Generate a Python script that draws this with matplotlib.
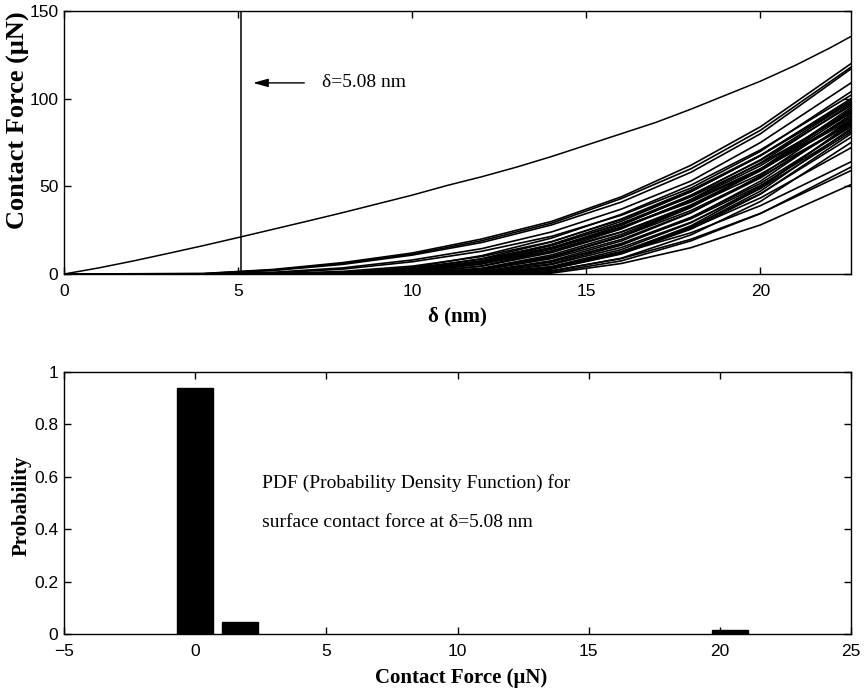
import matplotlib
matplotlib.use("Agg")
import matplotlib.pyplot as plt

# ---- top panel: contact force vs. delta ----
# single (upper) curve
main_x = [0, 1, 2, 3, 4, 5, 6, 7, 8, 9, 10, 11, 12, 13, 14, 15, 16, 17, 18, 19, 20, 21, 22, 22.6]
main_y = [0, 3.5, 7.5, 11.8, 16.2, 20.8, 25.5, 30.2, 35, 40, 45, 50.5, 55.5, 61, 67, 73.5,
          80, 86.5, 94, 102, 110, 119, 129, 135.5]

# bundle of curves, values read at these delta positions
bundle_x = [0, 4, 6, 8, 10, 12, 14, 16, 18, 20, 22.6]
bundle_y = [
    [0, 0.3, 2.6, 6.5, 12, 20, 30, 44, 62, 84, 120],
    [0, 0.2, 2.3, 6.0, 11.3, 19, 29, 43, 60, 82, 118],
    [0, 0.1, 2.0, 5.5, 10.8, 18, 28, 41, 58, 80, 117],
    [0, 0, 1.0, 3.5, 8, 14.5, 24, 37, 53, 75, 109],
    [0, 0, 0.6, 2.8, 7, 13, 21.5, 33.5, 49, 70, 104],
    [0, 0, 0.2, 1.5, 4.5, 10, 18.5, 31, 47, 67.5, 98],
    [0, 0, 0.1, 1.0, 3.5, 8.5, 16.5, 28.5, 44, 63, 92],
    [0, 0, 0, 0.6, 2.8, 7.5, 15, 26.5, 41, 59.5, 88],
    [0, 0, 0, 0.3, 2.0, 6.0, 13, 24, 38.5, 57, 86],
    [0, 0, 0, 0.4, 3.8, 10.5, 20.5, 34, 50.7, 70.8, 102],
    [0, 0, 0, 0, 1.9, 7.5, 16.9, 30, 46.9, 67.5, 100],
    [0, 0, 0, 0.1, 2.7, 8.8, 18.3, 31.4, 47.8, 67.8, 99],
    [0, 0, 0, 0, 1.1, 6, 14.9, 27.7, 44.5, 65.2, 98],
    [0, 0, 0, 0, 0.5, 4.7, 13.1, 25.7, 42.5, 63.4, 97],
    [0, 0, 0, 0, 1.8, 7.2, 16.2, 28.8, 45, 64.8, 96],
    [0, 0, 0, 0, 0, 2.4, 9.6, 21.6, 38.3, 59.9, 95],
    [0, 0, 0, 0, 0, 2.4, 9.5, 21.3, 37.9, 59.2, 94],
    [0, 0, 0, 0, 1.1, 5.7, 14.1, 26.3, 42.2, 61.8, 93],
    [0, 0, 0, 0, 0.1, 3.3, 10.9, 22.6, 38.7, 59.2, 92],
    [0, 0, 0, 0, 0, 1.4, 7.6, 18.8, 34.9, 56.1, 91],
    [0, 0, 0, 0, 0.5, 4.4, 12.2, 23.9, 39.4, 58.9, 90],
    [0, 0, 0, 0, 1.7, 6.7, 15, 26.7, 41.7, 60.1, 89],
    [0, 0, 0, 0, 0, 0.7, 5.9, 16.4, 32, 53, 88],
    [0, 0, 0, 0, 0, 2.2, 8.8, 19.7, 35.1, 54.8, 87],
    [0, 0, 0, 0, 0.1, 3.1, 10.1, 21.2, 36.2, 55.3, 86],
    [0, 0, 0, 0, 0, 0, 3.1, 12.2, 27.5, 49, 86],
    [0, 0, 0, 0, 0, 0.2, 4.3, 13.9, 29.2, 49.9, 85],
    [0, 0, 0, 0, 0, 1.3, 7.0, 17.4, 32.3, 51.7, 84],
    [0, 0, 0, 0, 0, 0, 3.0, 11.8, 26.6, 47.3, 83],
    [0, 0, 0, 0, 0, 1.3, 6.9, 17, 31.5, 50.5, 82],
    [0, 0, 0, 0, 0, 0.6, 5.4, 15.1, 29.5, 48.8, 81],
    [0, 0, 0, 0, 0, 0, 2.9, 11.4, 25.6, 45.6, 80],
    [0, 0, 0, 0, 0, 0.2, 4.0, 12.8, 26.8, 45.8, 78],
    [0, 0, 0, 0, 0, 0, 1.7, 9, 22.3, 41.4, 75],
    [0, 0, 0, 0, 0, 0, 3.6, 12.5, 25.8, 43.4, 72],
    [0, 0, 0, 0, 0, 0.3, 3.8, 12, 23.5, 39, 64],
    [0, 0, 0, 0, 0, 0, 1, 7.5, 18.9, 34.5, 61],
    [0, 0, 0, 0, 0, 0, 1.9, 8.8, 19.8, 34.6, 59],
    [0, 0, 0, 0, 0, 0, 0.5, 6, 15, 28, 51],
]
delta_mark = 5.08

# ---- bottom panel: PDF of contact force at delta = 5.08 nm ----
pdf_force = [0, 1.72, 20.4]
pdf_prob = [0.94, 0.047, 0.017]
bin_width = 1.37

sans = "Liberation Sans"
serif = "Liberation Serif"

fig = plt.figure(figsize=(8.66, 6.88), dpi=100)
ax1 = fig.add_axes([0.0739, 0.6017, 0.9088, 0.3823])
ax2 = fig.add_axes([0.0739, 0.0785, 0.9088, 0.3808])

ax1.plot(main_x, main_y, color="black", lw=1.1)
for ys in bundle_y:
    ax1.plot(bundle_x, ys, color="black", lw=1.2)
ax1.plot([delta_mark, delta_mark], [0, 150], color="black", lw=1.1)
ax1.annotate("", xy=(5.35, 109), xytext=(6.98, 109),
             arrowprops=dict(arrowstyle="-|>,head_length=0.9,head_width=0.25",
                             color="black", lw=1.0))
ax1.text(7.4, 109, "\u03b4=5.08 nm", fontsize=14, family=serif, va="center", ha="left")
ax1.set_xlim(0, 22.6)
ax1.set_ylim(0, 150)
ax1.set_xticks([0, 5, 10, 15, 20])
ax1.set_yticks([0, 50, 100, 150])
ax1.set_xlabel("\u03b4 (nm)", fontsize=15, family=serif, fontweight="bold")
ax1.set_ylabel("Contact Force (\u03bcN)", fontsize=19, family=serif, fontweight="bold")
ax1.xaxis.set_label_coords(0.5, -0.122)
ax1.yaxis.set_label_coords(-0.043, 0.585)

ax2.bar(pdf_force, pdf_prob, width=bin_width, color="black", edgecolor="black")
ax2.text(2.54, 0.576, "PDF (Probability Density Function) for", fontsize=14,
         family=serif, va="center", ha="left")
ax2.text(2.54, 0.424, "surface contact force at \u03b4=5.08 nm", fontsize=14,
         family=serif, va="center", ha="left")
ax2.set_xlim(-5, 25)
ax2.set_ylim(0, 1)
ax2.set_xticks([-5, 0, 5, 10, 15, 20, 25])
ax2.set_yticks([0, 0.2, 0.4, 0.6, 0.8, 1])
ax2.set_yticklabels(["0", "0.2", "0.4", "0.6", "0.8", "1"])
ax2.set_xlabel("Contact Force (\u03bcN)", fontsize=15, family=serif, fontweight="bold")
ax2.set_ylabel("Probability", fontsize=15, family=serif, fontweight="bold")
ax2.xaxis.set_label_coords(0.504, -0.128)
ax2.yaxis.set_label_coords(-0.041, 0.49)

for ax in (ax1, ax2):
    ax.tick_params(direction="in", top=True, right=True, length=5, width=1,
                   labelsize=12.5)
    ax.tick_params(axis="x", pad=7)
    ax.tick_params(axis="y", pad=4)
    for lab in ax.get_xticklabels() + ax.get_yticklabels():
        lab.set_family(sans)
    for sp in ax.spines.values():
        sp.set_linewidth(1.0)

fig.savefig("out.png", dpi=100)
